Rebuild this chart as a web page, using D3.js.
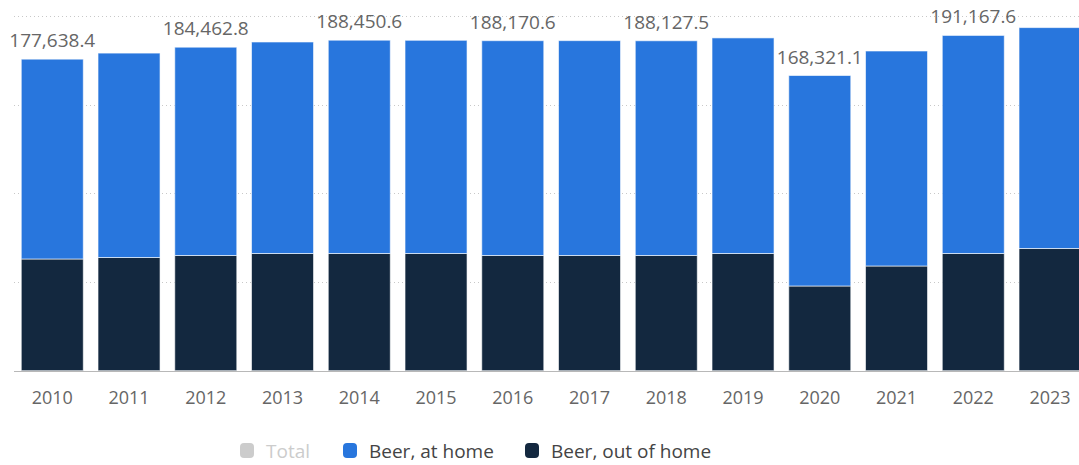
<!DOCTYPE html>
<html>
<head>
<meta charset="utf-8">
<script src="https://cdn.jsdelivr.net/npm/d3@7"></script>
<style>
  html, body { margin: 0; padding: 0; background: #fff; }
  svg { display: block; font-family: "Open Sans", "Noto Sans", sans-serif; }
</style>
</head>
<body>
<svg id="chart" width="1079" height="465"></svg>
<script>
const years = ["2010","2011","2012","2013","2014","2015","2016","2017","2018","2019","2020","2021","2022","2023"];
const outOfHome = [63700, 64550, 65690, 66830, 66830, 66830, 65690, 65690, 65690, 66830, 48300, 59700, 66830, 69680];
const atHome = [113938.4, 116550, 118772.8, 120600, 121620.6, 121570, 122480.6, 122510, 122437.5, 122930, 120021.1, 122590, 124337.6, 125960];
const totalLabels = [177638.4, null, 184462.8, null, 188450.6, null, 188170.6, null, 188127.5, null, 168321.1, null, 191167.6, null];
const yMax = 202250;
const gridCount = 4;
const legendItems = [
  { name: "Total", color: "#cccccc", text: "#cccccc" },
  { name: "Beer, at home", color: "#2876dd", text: "#444444" },
  { name: "Beer, out of home", color: "#13283f", text: "#444444" }
];

const svg = d3.select("#chart");
const x0 = 13.9, step = 76.75;
const x = d3.scaleBand().domain(years).range([x0, x0 + step * years.length]).paddingInner(0.192).paddingOuter(0.096);
const y = d3.scaleLinear().domain([0, yMax]).range([370.7, 16]);

// gridlines
const gridVals = d3.range(1, gridCount + 1).map(i => yMax * i / gridCount);
svg.append("g").selectAll("line").data(gridVals).join("line")
  .attr("x1", 14).attr("x2", 1079)
  .attr("y1", d => Math.round(y(d)) + 0.5).attr("y2", d => Math.round(y(d)) + 0.5)
  .attr("stroke", "#c8c8c8").attr("stroke-width", 1).attr("stroke-dasharray", "1,3");

// stacked data
const rows = years.map((yr, i) => ({ year: yr, out: outOfHome[i], home: atHome[i] }));
const stack = d3.stack().keys(["out", "home"])(rows);
const colors = { out: "#13283f", home: "#2876dd" };

svg.append("g").selectAll("g").data(stack).join("g")
  .attr("fill", d => colors[d.key])
  .selectAll("rect").data(d => d).join("rect")
  .attr("x", d => x(d.data.year))
  .attr("width", x.bandwidth())
  .attr("y", d => y(d[1]))
  .attr("height", d => y(d[0]) - y(d[1]))
  .attr("stroke", "#ffffff").attr("stroke-width", 1).attr("stroke-opacity", 0.6);

// axis line
svg.append("line").attr("x1", 14).attr("x2", 1079).attr("y1", 371.5).attr("y2", 371.5)
  .attr("stroke", "#b8b8b8").attr("stroke-width", 1.2);

// x axis labels
const xAxis = d3.axisBottom(x).tickSize(0).tickPadding(0);
const gx = svg.append("g").attr("transform", "translate(0,371)").call(xAxis);
gx.select(".domain").remove();
gx.selectAll("text").attr("y", 33).attr("dy", null)
  .attr("font-size", 18).attr("fill", "#666666")
  .attr("font-family", "'Open Sans', 'Noto Sans', sans-serif");

// value labels
const fmt = d3.format(",.1f");
svg.append("g").selectAll("text").data(years.map((yr, i) => ({ year: yr, v: totalLabels[i], top: outOfHome[i] + atHome[i] })).filter(d => d.v !== null))
  .join("text")
  .attr("x", d => x(d.year) + x.bandwidth() / 2)
  .attr("y", d => y(d.top) - 12)
  .attr("text-anchor", "middle")
  .attr("font-size", 19).attr("fill", "#666666")
  .text(d => fmt(d.v));

// legend
const legendX = [240, 343, 525];
const lg = svg.append("g").selectAll("g").data(legendItems).join("g")
  .attr("transform", (d, i) => `translate(${legendX[i]},443)`);
lg.append("rect").attr("width", 14).attr("height", 15).attr("rx", 4).attr("fill", d => d.color);
lg.append("text").attr("x", 26).attr("y", 15).attr("font-size", 19)
  .attr("fill", d => d.text).text(d => d.name);
</script>
</body>
</html>
